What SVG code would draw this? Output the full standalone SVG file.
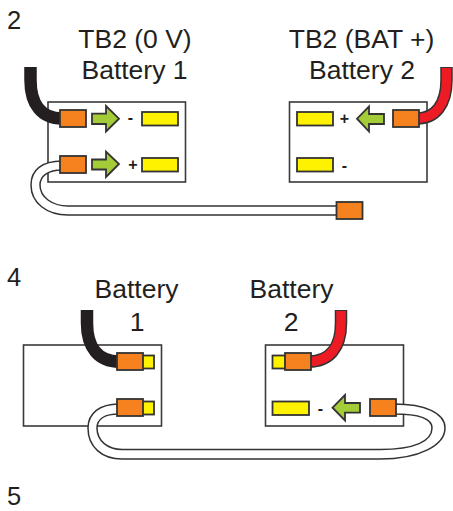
<svg xmlns="http://www.w3.org/2000/svg" width="453" height="511" viewBox="0 0 453 511">
<style>
text{font-family:"Liberation Sans",Arial,sans-serif;fill:#231f20}
.t{font-size:26.500px;text-anchor:middle}
.n{font-size:25.500px}
.s{font-size:16px;font-weight:700;text-anchor:middle}
.box{fill:#fff;stroke:#3a3a3a;stroke-width:1.6}
.o{fill:#f6821f;stroke:#333;stroke-width:1.8}
.y{fill:#fff200;stroke:#333;stroke-width:1.8}
.a{fill:#a4cc39;stroke:#333;stroke-width:1.8}
.bw{fill:none;stroke:#231f20;stroke-width:12.500}
.rwo{fill:none;stroke:#333;stroke-width:12.500}
.rw{fill:none;stroke:#ed1c24;stroke-width:9.500}
.c{fill:#fff;stroke:#333;stroke-width:1.500}
</style>
<g id="labels">
<text class="n" x="7" y="29">2</text>
<text class="n" x="7" y="286">4</text>
<text class="n" x="7" y="505">5</text>
<text class="t" x="135" y="48">TB2 (0 V)</text>
<text class="t" x="134.500" y="79">Battery 1</text>
<text class="t" x="361.500" y="48">TB2 (BAT +)</text>
<text class="t" x="362" y="79">Battery 2</text>
<text class="t" x="136.500" y="298">Battery</text>
<text class="t" x="137" y="331">1</text>
<text class="t" x="291.500" y="298">Battery</text>
<text class="t" x="291" y="331">2</text>
</g>
<g id="box-tb2-battery1">
<rect class="box" x="48" y="102" width="137.500" height="80"/>
<rect class="y" x="142" y="112" width="36" height="13.500"/>
<rect class="y" x="142" y="158" width="36" height="13.500"/>
<text class="s" x="130.500" y="123">-</text>
<text class="s" x="133" y="170">+</text>
<polygon class="a" points="92,113.700 106,113.700 106,106 119,118.700 106,131.500 106,124 92,124"/>
<polygon class="a" points="92,159.500 106,159.500 106,151.500 119,164 106,177 106,169.500 92,169.500"/>
</g>
<g id="box-tb2-battery2">
<rect class="box" x="289.500" y="102" width="137.500" height="80"/>
<rect class="y" x="297" y="112" width="36" height="13.500"/>
<rect class="y" x="297" y="158" width="36" height="13.500"/>
<text class="s" x="344.500" y="124">+</text>
<text class="s" x="344.500" y="171">-</text>
<polygon class="a" points="384,114 369,114 369,106.500 357,118.700 369,131.500 369,124 384,124"/>
</g>
<g id="box-battery1">
<rect class="box" x="23.500" y="345" width="138" height="81"/>
<rect class="y" x="142" y="355.500" width="12" height="13"/>
<rect class="y" x="142" y="401.500" width="12" height="13"/>
</g>
<g id="box-battery2">
<rect class="box" x="265.500" y="345" width="138" height="81"/>
<rect class="y" x="272.500" y="355.500" width="13" height="13"/>
<rect class="y" x="272.500" y="401.500" width="36.500" height="13.500"/>
<text class="s" x="320.500" y="414">-</text>
<polygon class="a" points="360,403 345,403 345,395 332.500,407.700 345,420.500 345,412.700 360,412.700"/>
</g>
<g id="connectors">
<path class="bw" d="M30.500 67V80C30.500 105 42 118.500 62 118.500"/>
<path class="rwo" d="M446.500 67V80C446.500 105 435 118.500 417 118.500"/>
<path class="rw" d="M446.500 68V80C446.500 105 435 118.500 417 118.500"/>
<path class="bw" d="M87 310V323C87 348 99 361.500 119 361.500"/>
<path class="rwo" d="M341 310V323C341 348 329 361.500 309 361.500"/>
<path class="rw" d="M341 311V323C341 348 329 361.500 309 361.500"/>
<path class="c" d="M62 161C42 161 31 170 31 185C31 203 47 215 68 215H338V206H68C52 206 40 197 40 185C40 176 48 170 62 170Z"/>
<path class="c" d="M119 404C100 404 88 413 88 428C88 447 102 459 122 459H380C420 459 445 445 445 428C445 413 425 404 394 404V414C418 414 432 418 432 428C432 441 415 449.500 380 449.500H122C108 449.500 97 441 97 428C97 419 105 414 119 414Z"/>
</g>
<g id="connector-housings">
<rect class="o" x="60" y="110" width="26" height="17"/>
<rect class="o" x="60" y="156" width="26" height="17"/>
<rect class="o" x="393" y="110" width="26" height="17"/>
<rect class="o" x="336.500" y="202" width="26" height="17"/>
<rect class="o" x="117" y="353" width="26" height="17"/>
<rect class="o" x="117" y="399" width="26" height="17"/>
<rect class="o" x="285" y="353" width="26" height="17"/>
<rect class="o" x="370" y="399" width="26" height="17"/>
</g>
</svg>
